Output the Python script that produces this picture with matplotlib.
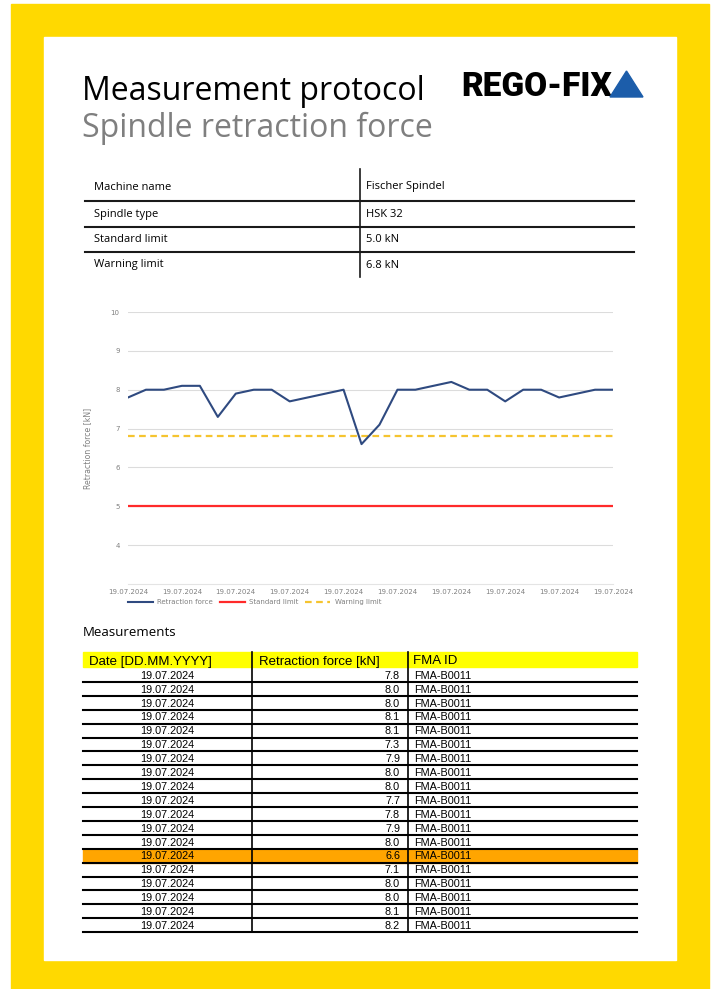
import matplotlib
matplotlib.use("Agg")
import matplotlib.pyplot as plt
from matplotlib.patches import Rectangle, Polygon

# ---- data ----
info_labels = ["Machine name", "Spindle type", "Standard limit", "Warning limit"]
info_values = ["Fischer Spindel", "HSK 32", "5.0 kN", "6.8 kN"]

standard_limit = 5.0
warning_limit = 6.8

# all measurements shown in the chart
forces = [7.8, 8.0, 8.0, 8.1, 8.1, 7.3, 7.9, 8.0, 8.0, 7.7, 7.8, 7.9, 8.0, 6.6,
          7.1, 8.0, 8.0, 8.1, 8.2, 8.0, 8.0, 7.7, 8.0, 8.0, 7.8, 7.9, 8.0, 8.0]
dates = ["19.07.2024"] * len(forces)
fma_ids = ["FMA-B0011"] * len(forces)
table_rows = 19  # rows listed on this page

table_header = ["Date [DD.MM.YYYY]", "Retraction force [kN]", "FMA ID"]

W, H = 715, 989
fig = plt.figure(figsize=(W / 100, H / 100), dpi=100)

# page layer in pixel coordinates (y grows downward)
bg = fig.add_axes([0, 0, 1, 1])
bg.set_xlim(0, W)
bg.set_ylim(H, 0)
bg.axis("off")

bg.add_patch(Rectangle((11, 4), 698, H - 4, color="#FFD900", zorder=0))
bg.add_patch(Rectangle((44, 37), 632, 923, color="white", zorder=1))

# title block
bg.text(82, 100, "Measurement protocol", fontsize=23, family="Open Sans",
        color="black", va="baseline", zorder=3)
bg.text(82, 137, "Spindle retraction force", fontsize=23, family="Open Sans",
        color="#7f7f7f", va="baseline", zorder=3)
bg.text(461, 96, "REGO-FIX", fontsize=24, family="Roboto", weight="black",
        color="black", va="baseline", zorder=3)
bg.add_patch(Polygon([(610, 97), (643, 97), (626.5, 71)], closed=True,
                     color="#1C5DAA", zorder=3))

# machine info table
row_base = [189.5, 217, 242.5, 267.5]
for lab, val, y in zip(info_labels, info_values, row_base):
    bg.text(94, y, lab, fontsize=8, family="Open Sans", va="baseline", zorder=3)
    bg.text(366, y, val, fontsize=8, family="Open Sans", va="baseline", zorder=3)
for y in [200.5, 226.5, 251.5]:
    bg.plot([85, 634], [y, y], color="#1a1a1a", lw=1.5, zorder=3)
bg.plot([359.5, 359.5], [169, 277], color="#1a1a1a", lw=1.2, zorder=3)

# ---- chart ----
ax = fig.add_axes([128 / W, 1 - 584 / H, 485 / W, 272 / H])
x = list(range(len(forces)))
ax.plot(x, forces, color="#2F4A80", lw=1.5, label="Retraction force", zorder=4)
ax.plot(x, [standard_limit] * len(x), color="#FF2A2A", lw=1.6,
        label="Standard limit", zorder=3)
ax.plot(x, [warning_limit] * len(x), color="#F5C430", lw=1.6,
        ls=(0, (3, 2)), label="Warning limit", zorder=3)
ax.set_xlim(0, len(x) - 1)
ax.set_ylim(3, 10)
ax.set_yticks(range(4, 11))
ax.set_xticks(x[::3])
ax.set_xticklabels(dates[::3])
ax.grid(axis="y", color="#dcdcdc", lw=0.8)
ax.set_axisbelow(True)
for s in ["top", "right", "left"]:
    ax.spines[s].set_visible(False)
ax.spines["bottom"].set_color("#e4e4e4")
ax.spines["bottom"].set_linewidth(0.8)
ax.tick_params(length=0, labelsize=5.0, labelcolor="#808080", pad=6)
ax.tick_params(axis="x", pad=3.5)
ax.set_ylabel("Retraction force [kN]", fontsize=5.6, color="#808080", labelpad=13)
ax.legend(loc="upper left", bbox_to_anchor=(128 / W, 1 - 599 / H),
          bbox_transform=fig.transFigure, ncol=3, frameon=False, fontsize=5.0,
          labelcolor="#808080", handlelength=3.6, columnspacing=1.0,
          handletextpad=0.6, borderaxespad=0, borderpad=0)

# ---- measurements table ----
bg.text(83, 632, "Measurements", fontsize=9.5, family="Open Sans", va="center",
        zorder=3)
left, right = 83, 637
col1, col2 = 252, 408
head_top, head_bot = 652, 667
pitch = 13.9
bg.add_patch(Rectangle((left, head_top), right - left, head_bot - head_top,
                       color="#FFFF00", zorder=2))
for hx, label in zip([89, 259, 413], table_header):
    bg.text(hx, 664.5, label, fontsize=9.5, family="Liberation Sans",
            va="baseline", zorder=3)

for i in range(table_rows):
    top = head_bot + 1 + i * pitch
    bot = top + pitch
    base = top + pitch / 2 + 3.8
    if forces[i] < warning_limit:
        bg.add_patch(Rectangle((left, top), right - left, pitch,
                               color="#FFA500", zorder=2))
    bg.text((left + col1) / 2, base, dates[i], fontsize=7.8,
            family="Liberation Sans", ha="center", va="baseline", zorder=3)
    bg.text(400, base, f"{forces[i]:.1f}", fontsize=7.8, family="Liberation Sans",
            ha="right", va="baseline", zorder=3)
    bg.text(414, base, fma_ids[i], fontsize=7.8, family="Liberation Sans",
            ha="left", va="baseline", zorder=3)
    bg.plot([left, right], [bot, bot], color="black", lw=1.5, zorder=3)

table_bot = head_bot + 1 + table_rows * pitch
for cx in [col1, col2]:
    bg.plot([cx, cx], [head_top, table_bot], color="black", lw=1.2, zorder=3)

fig.savefig("out.png", dpi=100)
